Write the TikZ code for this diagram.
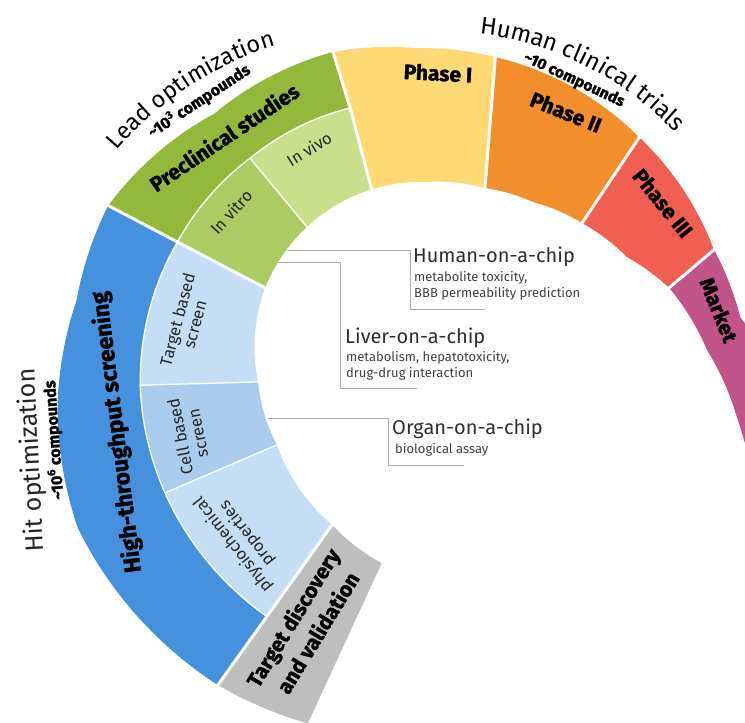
\documentclass[tikz,border=0pt]{standalone}
\usepackage{fontspec}
\setmainfont{Fira Sans}
\newfontfamily\heavyfont{Fira Sans}[FakeBold=1.5]
\usetikzlibrary{decorations.text}
\definecolor{cgray}{RGB}{190,190,190}
\definecolor{htsblue}{RGB}{69,145,221}
\definecolor{lightblue}{RGB}{197,222,245}
\definecolor{midblue}{RGB}{170,205,238}
\definecolor{preg}{RGB}{147,185,60}
\definecolor{vitrog}{RGB}{170,204,98}
\definecolor{vivog}{RGB}{200,224,140}
\definecolor{ph1}{RGB}{255,217,115}
\definecolor{ph2}{RGB}{242,142,44}
\definecolor{ph3}{RGB}{240,95,82}
\definecolor{mkt}{RGB}{194,84,140}
\definecolor{linkgray}{RGB}{175,175,175}
\tikzset{sg/.style n args={4}{domain=#1:#3,samples=16,variable=\ang,
   /utils/exec={\def\segta{#1}\def\segra{#2}\def\segtb{#3}\def\segrb{#4}}}}
\newcommand\segr{\segra+(\segrb-\segra)*(\ang-(\segta))/(\segtb-(\segta))}
\begin{document}
\begin{tikzpicture}[x=1pt,y=-1pt,
  heavy/.style={font=\heavyfont\bfseries\fontsize{21}{24}\selectfont,text=black,inner sep=0pt,align=center},
  sublbl/.style={font=\fontsize{16.5}{18}\selectfont,text=black!85,inner sep=0pt,align=center},
  stage/.style={font=\fontsize{25}{25}\selectfont,text=black!85,inner sep=0pt},
  count/.style={font=\heavyfont\bfseries\fontsize{16}{16}\selectfont,text=black,inner sep=0pt},
  chiptitle/.style={font=\fontsize{20}{20}\selectfont,text=black!82,inner sep=0pt,anchor=base west},
  chipsub/.style={font=\fontsize{13}{16}\selectfont,text=black!75,inner sep=0pt,anchor=base west},
  link/.style={draw=linkgray,line width=1pt},
  thinsep/.style={draw=white,line width=1.3pt},
  thicksep/.style={draw=white,line width=3pt}]
\useasboundingbox (0,0) rectangle (745,723);
\begin{scope}
\clip (0,0) rectangle (745,723);
\begin{scope}[shift={(427,350)},y=1pt]
  % pieces
  \fill[cgray] plot[sg={241.5}{199}{258}{218}] (\ang:{\segr}) -- plot[sg={252.3}{392}{238}{395}] (\ang:{\segr}) -- cycle;
  \fill[htsblue] plot[sg={239}{311}{208.6}{298.5}] (\ang:{\segr}) -- plot[sg={208.6}{298.5}{187}{289}] (\ang:{\segr})
     -- plot[sg={187}{289}{156.6}{272}] (\ang:{\segr})
     -- plot[sg={155.6}{350}{172}{354}] (\ang:{\segr}) -- plot[sg={172}{354}{188}{373}] (\ang:{\segr})
     -- plot[sg={188}{373}{207}{392}] (\ang:{\segr}) -- plot[sg={207}{392}{238}{395}] (\ang:{\segr}) -- cycle;
  \fill[lightblue] plot[sg={241.5}{199}{212.3}{177.6}] (\ang:{\segr}) -- plot[sg={208.6}{298.5}{239}{311}] (\ang:{\segr}) -- cycle;
  \fill[midblue] plot[sg={212.3}{177.6}{190.7}{172}] (\ang:{\segr}) -- plot[sg={187}{289}{208.6}{298.5}] (\ang:{\segr}) -- cycle;
  \fill[lightblue] plot[sg={190.7}{172}{159}{173.5}] (\ang:{\segr}) -- plot[sg={156.6}{272}{187}{289}] (\ang:{\segr}) -- cycle;
  \fill[preg] plot[sg={156.6}{272}{132.7}{261}] (\ang:{\segr}) -- plot[sg={132.7}{261}{107.6}{254}] (\ang:{\segr})
     -- plot[sg={107.5}{312.5}{132}{318}] (\ang:{\segr}) -- plot[sg={132}{318}{155.6}{350}] (\ang:{\segr}) -- cycle;
  \fill[vitrog] plot[sg={159}{173.5}{134.3}{172}] (\ang:{\segr}) -- plot[sg={132.7}{261}{156.6}{272}] (\ang:{\segr}) -- cycle;
  \fill[vivog] plot[sg={134.3}{172}{109}{170}] (\ang:{\segr}) -- plot[sg={107.6}{254}{132.7}{261}] (\ang:{\segr}) -- cycle;
  \fill[ph1] plot[sg={109}{170}{90}{168}] (\ang:{\segr}) -- plot[sg={90}{168}{70.3}{172}] (\ang:{\segr})
     -- plot[sg={76.9}{300.8}{92}{302}] (\ang:{\segr}) -- plot[sg={92}{302}{107.5}{312.5}] (\ang:{\segr}) -- cycle;
  \fill[ph2] plot[sg={70.3}{172}{54.4}{182}] (\ang:{\segr}) -- plot[sg={54.4}{182}{39.3}{200.4}] (\ang:{\segr})
     -- plot[sg={45.1}{300.5}{76.9}{300.8}] (\ang:{\segr}) -- cycle;
  \fill[ph3] plot[sg={39.3}{200.4}{24.9}{220.6}] (\ang:{\segr}) -- plot[sg={24.9}{220.6}{14.4}{250}] (\ang:{\segr})
     -- plot[sg={19.4}{304}{45.1}{300.5}] (\ang:{\segr}) -- cycle;
  \fill[mkt] plot[sg={14.4}{250}{0}{280}] (\ang:{\segr}) -- plot[sg={0}{280}{-12.2}{317}] (\ang:{\segr})
     -- plot[sg={-12.2}{317}{-16}{330}] (\ang:{\segr}) -- plot[sg={-16}{330}{-30}{400}] (\ang:{\segr})
     -- plot[sg={-30}{440}{6}{315}] (\ang:{\segr}) -- plot[sg={6}{315}{19.4}{304}] (\ang:{\segr}) -- cycle;
  % thin separators
  \draw[thinsep] plot[sg={239}{311}{208.6}{298.5}] (\ang:{\segr}) -- plot[sg={208.6}{298.5}{187}{289}] (\ang:{\segr})
     -- plot[sg={187}{289}{156.6}{272}] (\ang:{\segr});
  \draw[thinsep] plot[sg={156.6}{272}{132.7}{261}] (\ang:{\segr}) -- plot[sg={132.7}{261}{107.6}{254}] (\ang:{\segr});
  \draw[thinsep] (212.3:177.6) -- (208.6:298.5);
  \draw[thinsep] (190.7:172) -- (187:289);
  \draw[thinsep] (134.3:172) -- (132.7:261);
  % thick separators
  \draw[thicksep] (241.5:199) -- (239:311) -- (238:397);
  \draw[thicksep] (159:173.5) -- (156.6:272) -- (155.6:352);
  \draw[thicksep] (109:170) -- (107.6:254) -- (107.5:314);
  \draw[thicksep] (70.3:172) -- (76.9:302);
  \draw[thicksep] (39.3:200.4) -- (45.1:302);
  \draw[thicksep] (14.4:250) -- (19.4:306);
  % curved stage labels
  \path[decorate,decoration={text along path,text align=center,
     text={|\fontsize{24}{24}\selectfont|Human clinical trials}}] plot[sg={90}{318.5}{32}{332.5}] (\ang:{\segr});
  \path[decorate,decoration={text along path,text align=center,
     text={|\fontsize{23.5}{24}\selectfont|Lead optimization}}] plot[sg={154}{375}{109}{333}] (\ang:{\segr});
\end{scope}
% heavy labels
\node[heavy,rotate=58.5] (tdv) at (305,625) {Target discovery\\[5pt]and validation};
\node[heavy,rotate=97,font=\heavyfont\bfseries\fontsize{23}{24}\selectfont] (hts) at (117,432) {High-throughput screening};
\node[heavy,rotate=34] (pcs) at (224,137) {Preclinical studies};
\node[heavy,rotate=-3] (p1) at (438,73) {Phase I};
\node[heavy,rotate=-22] (p2) at (566,112) {Phase II};
\node[heavy,rotate=-51] (p3) at (663,203) {Phase III};
\node[heavy,rotate=-68] (mk) at (719,310) {Market};
% sub labels
\node[sublbl,rotate=128] (pcp) at (240,539) {physiochemical\\properties};
\node[sublbl,rotate=101] (cbs) at (189,435) {Cell based\\screen};
\node[sublbl,rotate=75] (tbs) at (186,322) {Target based\\screen};
\node[sublbl,rotate=48] (ivt) at (231,212) {In vitro};
\node[sublbl,rotate=32] (ivv) at (309,149) {In vivo};
% stage labels
\node[stage,rotate=93] (hit) at (32,460) {Hit optimization};
\node[count,rotate=94] (c6) at (54,440) {\textasciitilde10\textsuperscript{6} compounds};
\node[count,rotate=33.5] (c3) at (199,101) {\textasciitilde10\textsuperscript{3} compounds};
\node[count,rotate=-25,font=\heavyfont\bfseries\fontsize{15.5}{16}\selectfont] (c1) at (574,80) {\textasciitilde10 compounds};
% chip labels
\node[chiptitle] (hoc) at (413,262) {Human-on-a-chip};
\node[chipsub] (hoc1) at (414,281) {metabolite toxicity,};
\node[chipsub] (hoc2) at (414,297) {BBB permeability prediction};
\node[chiptitle] (loc) at (345,343) {Liver-on-a-chip};
\node[chipsub] (loc1) at (346,361) {metabolism, hepatotoxicity,};
\node[chipsub] (loc2) at (346,377) {drug-drug interaction};
\node[chiptitle] (ooc) at (392,434) {Organ-on-a-chip};
\node[chipsub] (ooc1) at (395,453) {biological assay};
% connectors
\coordinate (hs) at (287,250); \coordinate (hk1) at (410,250); \coordinate (hk2) at (410,309); \coordinate (he) at (485,309);
\coordinate (ls) at (278,262); \coordinate (lk1) at (340,262); \coordinate (lk2) at (340,388); \coordinate (le) at (417,388);
\coordinate (os) at (268,418); \coordinate (ok1) at (388,418); \coordinate (ok2) at (388,465); \coordinate (oe) at (464,465);
\draw[link] (hs) -- (hk1) -- (hk2) -- (he);
\draw[link] (ls) -- (lk1) -- (lk2) -- (le);
\draw[link] (os) -- (ok1) -- (ok2) -- (oe);
\end{scope}
\end{tikzpicture}
\end{document}
